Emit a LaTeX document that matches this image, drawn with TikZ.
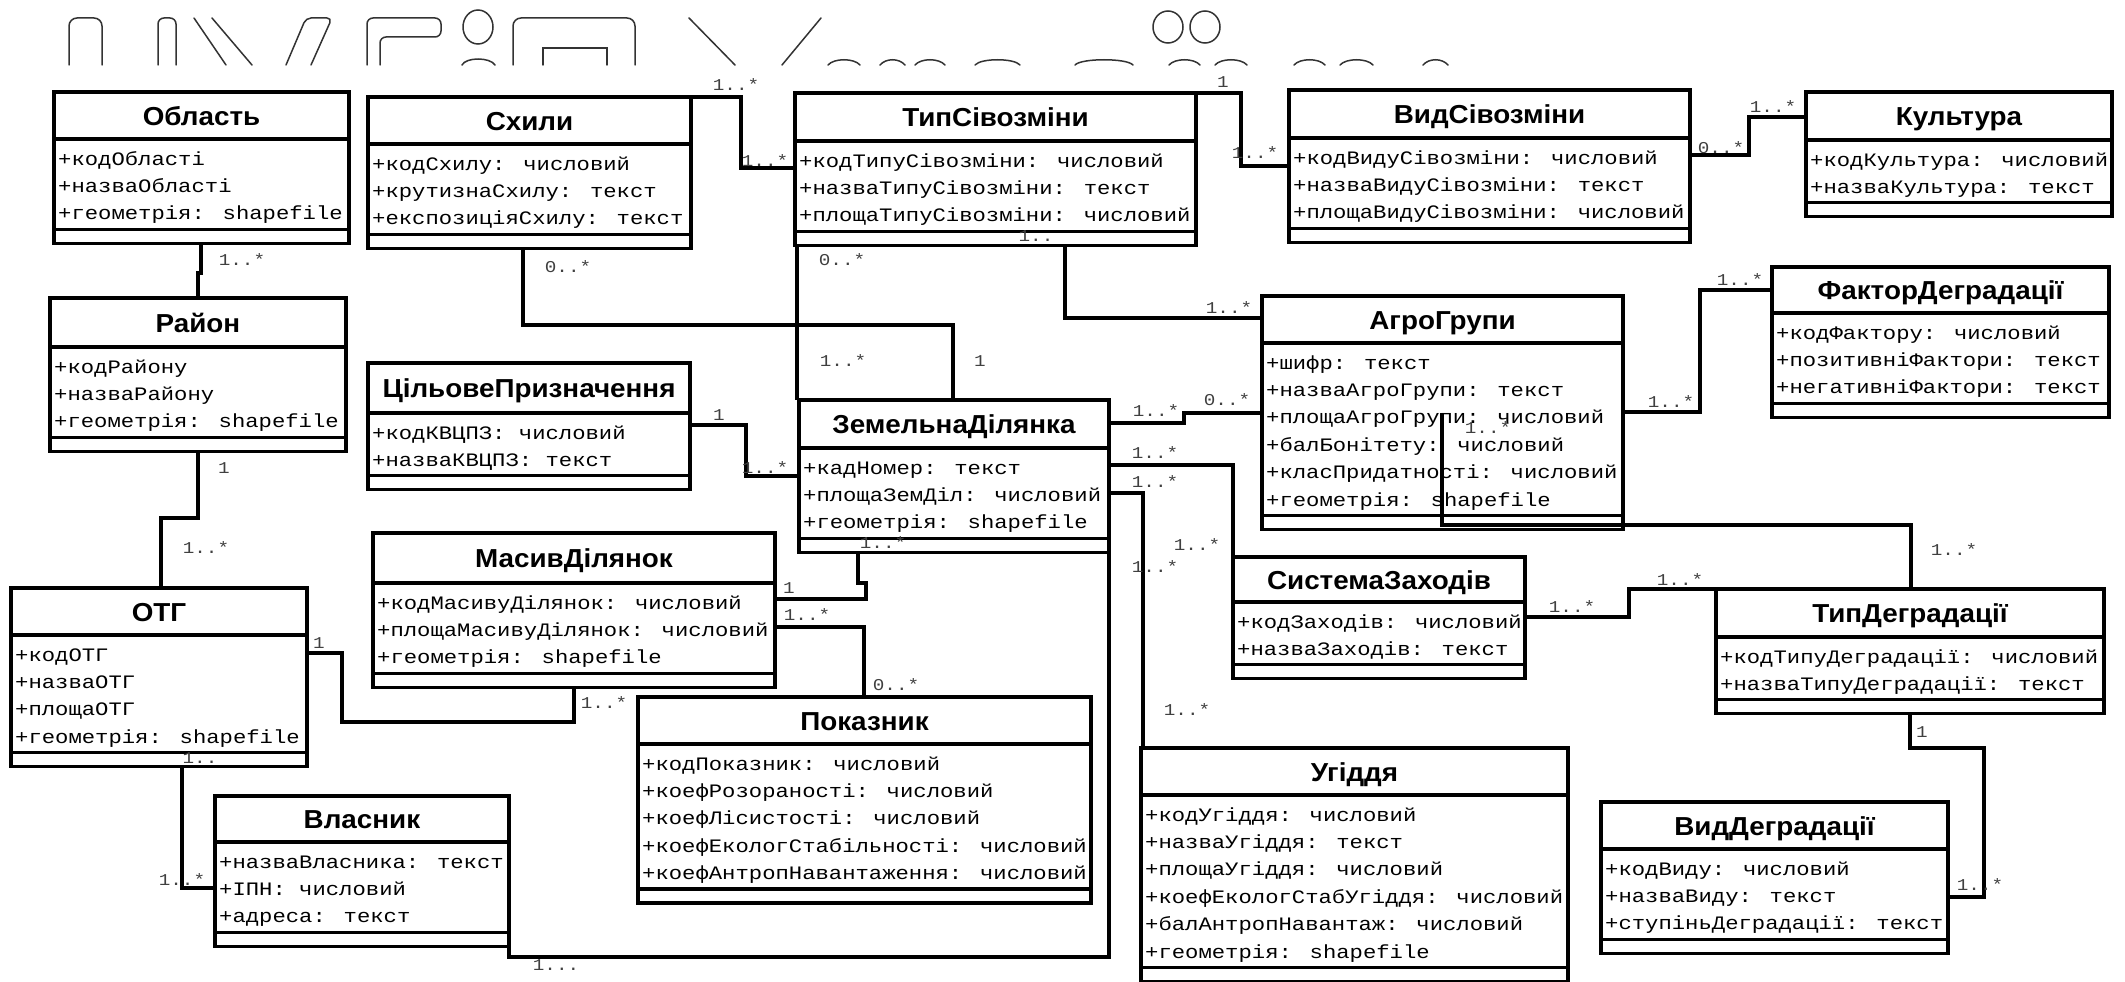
\documentclass[tikz,border=0pt]{standalone}
\usepackage{fontspec}
\newfontfamily\monof[FakeStretch=1.17]{Liberation Mono}
\newfontfamily\hdrf[FakeStretch=1.07]{Liberation Sans}
\tikzset{
 clsbox/.style={draw, line width=3.2pt, inner sep=0pt, outer sep=0pt, rectangle},
 divider/.style={line width=3.2pt},
 conn/.style={line width=3.2pt},
 rowtext/.style={anchor=base west, inner sep=0pt, font=\monof\fontsize{19}{21}\selectfont, text=black},
 titletext/.style={anchor=base, inner sep=0pt, font=\hdrf\bfseries\fontsize{26}{30}\selectfont},
 mult/.style={inner sep=0pt, font=\monof\fontsize{16.5}{18}\selectfont, text=black!75},
 ghost/.style={line width=1.5pt, black!80, line cap=round},
}
% #1 id, #2 x1, #3 y1, #4 x2, #5 header-bottom y, #6 rows, #7 title, #8 row list
\newcommand\umlclass[8]{%
  \pgfmathsetmacro\ucA{#5+27.4*#6+8}%
  \pgfmathsetmacro\ucB{\ucA+14}%
  \node[clsbox, minimum width={(#4-#2)*1pt}, minimum height={(\ucB-#3)*1pt}] (#1) at ({(#2+#4)/2},{(#3+\ucB)/2}) {};
  \draw[divider] (#1.west |- 0,#5) -- (#1.east |- 0,#5);
  \draw[divider] (#1.west |- 0,\ucA) -- (#1.east |- 0,\ucA);
  \node[titletext] (#1-t) at ({(#2+#4)/2},{(#3+#5)/2+9.5}) {#7};
  \foreach \r [count=\i] in {#8}{\node[rowtext] (#1-\i) at ({#2+4},{#5+26+27.4*(\i-1)}) {\r};}
}
\newcommand\mlab[4]{\node[mult] (#1) at (#2,#3) {#4};}
\begin{document}
\begin{tikzpicture}[x=1pt,y=-1pt]
\fill[white] (0,0) rectangle (2125,982);
\useasboundingbox (0,0) rectangle (2125,982);

% faint remains of a large title
\draw[ghost, rounded corners=8] (69,65) -- (69,18) -- (102,18) -- (102,65);
\draw[ghost, rounded corners=6] (158,65) -- (158,18) -- (176,18) -- (176,65);
\draw[ghost] (194,18) -- (226,65);
\draw[ghost] (212,18) -- (252,65);
\draw[ghost, rounded corners=5] (286,65) -- (306,18) -- (332,18) -- (311,65);
\draw[ghost, rounded corners=6] (367,65) -- (367,18) -- (441,18) -- (441,37) -- (380,37) -- (380,65);
\draw[ghost] (478,27) ellipse [x radius=15, y radius=17];
\draw[ghost] (462,65) .. controls (466,57) and (490,57) .. (495,65);
\draw[ghost, rounded corners=8] (513,65) -- (513,18) -- (635,18) -- (635,65);
\draw[ghost] (543,65) -- (543,48) -- (607,48) -- (607,65);
\draw[ghost] (689,18) -- (735,65);
\draw[ghost] (821,18) -- (782,65);
\draw[ghost] (1168,27) ellipse [x radius=15, y radius=16];
\draw[ghost] (1205,27) ellipse [x radius=15, y radius=16];
\foreach \a/\b in {828/860, 880/905, 915/945, 975/1020, 1075/1133, 1169/1200, 1215/1247, 1294/1325, 1340/1373, 1423/1448}
  {\draw[ghost] (\a,65) .. controls (\a+6,58) and (\b-6,58) .. (\b,65);}

% classes
\umlclass{obl}{54}{92}{349}{139}{3}{Область}{+кодОбласті,+назваОбласті,+геометрія: shapefile}
\umlclass{sch}{368}{97}{691}{144}{3}{Схили}{+кодСхилу: числовий,+крутизнаСхилу: текст,+експозиціяСхилу: текст}
\umlclass{tsv}{795}{93}{1196}{141}{3}{ТипСівозміни}{+кодТипуСівозміни: числовий,+назваТипуСівозміни: текст,+площаТипуСівозміни: числовий}
\umlclass{vsv}{1289}{90}{1690}{138}{3}{ВидСівозміни}{+кодВидуСівозміни: числовий,+назваВидуСівозміни: текст,+площаВидуСівозміни: числовий}
\umlclass{kul}{1806}{92}{2112}{140}{2}{Культура}{+кодКультура: числовий,+назваКультура: текст}
\umlclass{fd}{1772}{267}{2109}{313}{3}{ФакторДеградації}{+кодФактору: числовий,+позитивніФактори: текст,+негативніФактори: текст}
\umlclass{ray}{50}{298}{346}{347}{3}{Район}{+кодРайону,+назваРайону,+геометрія: shapefile}
\umlclass{cp}{368}{363}{690}{413}{2}{ЦільовеПризначення}{+кодКВЦПЗ: числовий,+назваКВЦПЗ: текст}
\umlclass{zd}{799}{400}{1109}{448}{3}{ЗемельнаДілянка}{+кадНомер: текст,+площаЗемДіл: числовий,+геометрія: shapefile}
\umlclass{ag}{1262}{296}{1623}{343}{6}{АгроГрупи}{+шифр: текст,+назваАгроГрупи: текст,+площаАгроГрупи: числовий,+балБонітету: числовий,+класПридатності: числовий,+геометрія: shapefile}
\umlclass{md}{373}{533}{775}{583}{3}{МасивДілянок}{+кодМасивуДілянок: числовий,+площаМасивуДілянок: числовий,+геометрія: shapefile}
\umlclass{sz}{1233}{557}{1525}{602}{2}{СистемаЗаходів}{+кодЗаходів: числовий,+назваЗаходів: текст}
\umlclass{td}{1716}{589}{2104}{637}{2}{ТипДеградації}{+кодТипуДеградації: числовий,+назваТипуДеградації: текст}
\umlclass{otg}{11}{588}{307}{635}{4}{ОТГ}{+кодОТГ,+назваОТГ,+площаОТГ,+геометрія: shapefile}
\umlclass{pok}{638}{697}{1091}{744}{5}{Показник}{+кодПоказник: числовий,+коефРозораності: числовий,+коефЛісистості: числовий,+коефЕкологСтабільності: числовий,+коефАнтропНавантаження: числовий}
\umlclass{vl}{215}{796}{509}{842}{3}{Власник}{+назваВласника: текст,+ІПН: числовий,+адреса: текст}
\umlclass{ug}{1141}{748}{1568}{795}{6}{Угіддя}{+кодУгіддя: числовий,+назваУгіддя: текст,+площаУгіддя: числовий,+коефЕкологСтабУгіддя: числовий,+балАнтропНавантаж: числовий,+геометрія: shapefile}
\umlclass{vd}{1601}{802}{1948}{849}{3}{ВидДеградації}{+кодВиду: числовий,+назваВиду: текст,+ступіньДеградації: текст}

\coordinate (agin) at (1442,413);

% connectors
\draw[conn] (obl.south -| 201,0) -- (201,273) -- (198,273) -- (ray.north -| 198,0);
\draw[conn] (sch.south -| 523,0) |- (953,325) -- (zd.north -| 953,0);
\draw[conn] (sch.north -| 640,0) -| (741,168) -- (tsv.west |- 0,168);
\draw[conn] (tsv.south -| 797,0) -- (zd.north -| 797,0);
\draw[conn] (tsv.north east) -| (1241,166) -- (vsv.west |- 0,166);
\draw[conn] (tsv.south -| 1065,0) |- (ag.west |- 0,318);
\draw[conn] (vsv.east |- 0,155) -| (1749,117) -- (kul.west |- 0,117);
\draw[conn] (ray.south -| 198,0) |- (161,518) -- (otg.north -| 161,0);
\draw[conn] (cp.east |- 0,425) -| (746,476) -- (zd.west |- 0,476);
\draw[conn] (zd.east |- 0,423) -| (1184,413) -- (ag.west |- 0,413);
\draw[conn] (agin) |- (1911,525) -- (td.north -| 1911,0);
\draw[conn] (ag.east |- 0,412) -| (1700,290) -- (fd.west |- 0,290);
\draw[conn] (zd.east |- 0,465) -| (sz.north west);
\draw[conn] (zd.east |- 0,493) -| (ug.north -| 1143,0);
\draw[conn] (vl.south east) -- (509,957) -| (zd.south east);
\draw[conn] (md.east |- 0,599) -- (866,599) -- (866,583) -- (858,583) -- (zd.south -| 858,0);
\draw[conn] (md.east |- 0,627) -| (pok.north -| 864,0);
\draw[conn] (otg.east |- 0,653) -| (342,722) -| (md.south -| 574,0);
\draw[conn] (otg.south -| 182,0) |- (vl.west |- 0,888);
\draw[conn] (sz.east |- 0,617) -| (1629,589) -- (td.west |- 0,589);
\draw[conn] (td.south -| 1910,0) |- (1984,748) |- (vd.east |- 0,897);

% multiplicities
\mlab{m1}{242}{260}{1..*}
\mlab{m2}{568}{267}{0..*}
\mlab{m3}{980}{361}{1}
\mlab{m4}{736}{85}{1..*}
\mlab{m5}{765}{161}{1..*}
\mlab{m6}{842}{260}{0..*}
\mlab{m7}{843}{361}{1..*}
\mlab{m8}{1223}{82}{1}
\mlab{m9}{1255}{153}{1..*}
\mlab{m10}{1036}{236}{1..}
\mlab{m11}{1229}{308}{1..*}
\mlab{m12}{1721}{148}{0..*}
\mlab{m13}{1773}{107}{1..*}
\mlab{m14}{224}{468}{1}
\mlab{m15}{206}{548}{1..*}
\mlab{m16}{719}{415}{1}
\mlab{m17}{765}{468}{1..*}
\mlab{m18}{1156}{411}{1..*}
\mlab{m19}{1227}{400}{0..*}
\mlab{m20}{1488}{428}{1..*}
\mlab{m21}{1954}{550}{1..*}
\mlab{m22}{1671}{402}{1..*}
\mlab{m23}{1740}{280}{1..*}
\mlab{m24}{1155}{453}{1..*}
\mlab{m25}{1197}{545}{1..*}
\mlab{m26}{1155}{482}{1..*}
\mlab{m27}{1187}{710}{1..*}
\mlab{m28}{556}{965}{1...}
\mlab{m29}{1155}{567}{1..*}
\mlab{m30}{789}{588}{1}
\mlab{m31}{883}{543}{1..*}
\mlab{m32}{807}{615}{1..*}
\mlab{m33}{896}{685}{0..*}
\mlab{m34}{319}{643}{1}
\mlab{m35}{604}{703}{1..*}
\mlab{m36}{200}{758}{1..}
\mlab{m37}{182}{880}{1..*}
\mlab{m38}{1572}{607}{1..*}
\mlab{m39}{1680}{580}{1..*}
\mlab{m40}{1922}{732}{1}
\mlab{m41}{1980}{885}{1..*}
\end{tikzpicture}
\end{document}
